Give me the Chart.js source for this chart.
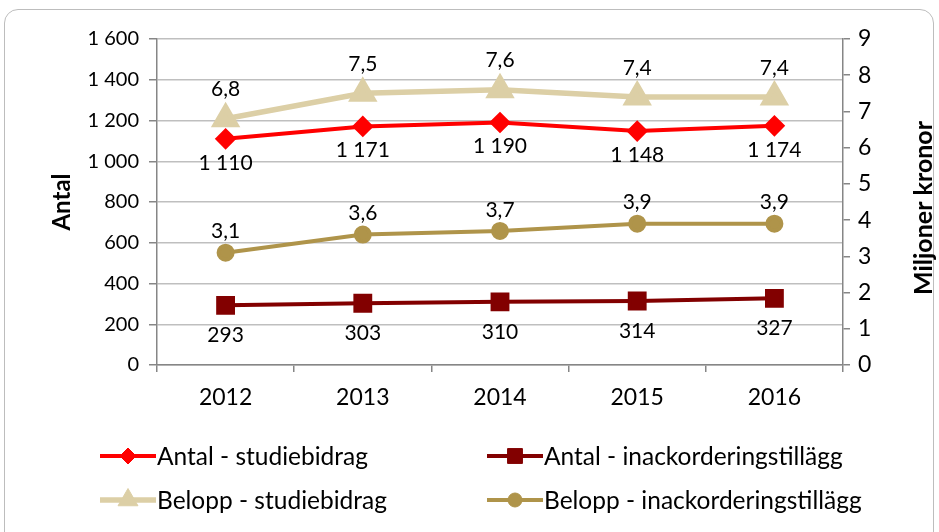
<!DOCTYPE html>
<html>
<head>
<meta charset="utf-8">
<script src="https://cdn.jsdelivr.net/npm/chart.js@4"></script>
<style>
  html, body { margin: 0; padding: 0; background: #fff; }
  #wrap { position: relative; width: 939px; height: 532px; overflow: hidden; }
  #frame { position: absolute; left: 4px; top: 9px; width: 928px; height: 540px;
           border: 1.5px solid #bdbdbd; border-radius: 14px; pointer-events: none; }
  canvas { position: absolute; left: 0; top: 0; }
</style>
</head>
<body>
<div id="wrap">
  <div id="frame"></div>
  <canvas id="my_chart" width="939" height="532"></canvas>
</div>
<script>
// categories and series
var years = ['2012', '2013', '2014', '2015', '2016'];
var antalStudiebidrag = [1110, 1171, 1190, 1148, 1174];
var antalInack = [293, 303, 310, 314, 327];
var beloppStudiebidrag = [6.8, 7.5, 7.6, 7.4, 7.4];
var beloppInack = [3.1, 3.6, 3.7, 3.9, 3.9];

var FONT = 'Lato, Carlito, "Liberation Sans", sans-serif';

function fmtThousand(v){
    return String(v).replace(/\B(?=(\d{3})+(?!\d))/g, ' ');
}
function fmtDecimal(v){
    return v.toFixed(1).replace('.', ',');
}

// value labels drawn next to each point
var labelPlugin = {
    id: 'valueLabels',
    afterDatasetsDraw: function(chart){
        var ctx = chart.ctx;
        ctx.save();
        ctx.font = '21px ' + FONT;
        ctx.fillStyle = '#000';
        ctx.textAlign = 'center';
        ctx.textBaseline = 'middle';
        chart.data.datasets.forEach(function(ds, i){
            var meta = chart.getDatasetMeta(i);
            meta.data.forEach(function(pt, j){
                var txt = ds.labelFmt(ds.data[j]);
                ctx.fillText(txt, pt.x, pt.y + ds.labelOffset);
            });
        });
        ctx.restore();
    }
};

// right axis title, read bottom to top
var rightTitlePlugin = {
    id: 'rightTitle',
    afterDraw: function(chart){
        var ctx = chart.ctx;
        var area = chart.chartArea;
        ctx.save();
        ctx.translate(924, (area.top + area.bottom) / 2 + 6);
        ctx.rotate(-Math.PI / 2);
        ctx.font = 'bold 25px ' + FONT;
        ctx.fillStyle = '#000';
        ctx.textAlign = 'center';
        ctx.textBaseline = 'middle';
        ctx.fillText('Miljoner kronor', 0, 0);
        ctx.restore();
    }
};

// two-column legend below the plot
var legendPlugin = {
    id: 'gridLegend',
    afterDraw: function(chart){
        var ctx = chart.ctx;
        var cols = [100, 487];
        var rows = [456, 500];
        ctx.save();
        chart.data.datasets.forEach(function(ds, k){
            var x = cols[k % 2], y = rows[Math.floor(k / 2)];
            ctx.strokeStyle = ds.borderColor;
            ctx.lineWidth = ds.borderWidth;
            ctx.beginPath();
            ctx.moveTo(x, y);
            ctx.lineTo(x + 56, y);
            ctx.stroke();
            ctx.fillStyle = ds.pointBackgroundColor;
            ctx.strokeStyle = ds.pointBackgroundColor;
            ctx.lineWidth = 1;
            Chart.helpers.drawPoint(ctx, {
                pointStyle: ds.pointStyle,
                radius: ds.pointRadius,
                rotation: 0,
                borderWidth: 1
            }, x + 28, y);
            ctx.fillStyle = '#000';
            ctx.font = '24.5px ' + FONT;
            ctx.textAlign = 'left';
            ctx.textBaseline = 'middle';
            ctx.fillText(ds.label, x + 57, y + 1);
        });
        ctx.restore();
    }
};

var ctx = document.getElementById('my_chart').getContext('2d');
var chart = new Chart(ctx, {
    type: 'line',
    data: {
        labels: years,
        datasets: [
            {
                label: 'Antal - studiebidrag',
                data: antalStudiebidrag,
                yAxisID: 'y',
                borderColor: '#ff0000',
                pointBackgroundColor: '#ff0000',
                pointBorderColor: '#ff0000',
                pointStyle: 'rectRot',
                pointRadius: 8,
                borderWidth: 4,
                labelOffset: 24,
                labelFmt: fmtThousand
            },
            {
                label: 'Antal - inackorderingstillägg',
                data: antalInack,
                yAxisID: 'y',
                borderColor: '#820000',
                pointBackgroundColor: '#820000',
                pointBorderColor: '#820000',
                pointStyle: 'rect',
                pointRadius: 10.5,
                borderWidth: 4,
                labelOffset: 30,
                labelFmt: fmtThousand
            },
            {
                label: 'Belopp - studiebidrag',
                data: beloppStudiebidrag,
                yAxisID: 'y1',
                borderColor: '#dccfa6',
                pointBackgroundColor: '#dccfa6',
                pointBorderColor: '#dccfa6',
                pointStyle: 'triangle',
                pointRadius: 11.5,
                borderWidth: 5.5,
                labelOffset: -29,
                labelFmt: fmtDecimal
            },
            {
                label: 'Belopp - inackorderingstillägg',
                data: beloppInack,
                yAxisID: 'y1',
                borderColor: '#af944a',
                pointBackgroundColor: '#af944a',
                pointBorderColor: '#af944a',
                pointStyle: 'circle',
                pointRadius: 7,
                borderWidth: 4,
                labelOffset: -21,
                labelFmt: fmtDecimal
            }
        ]
    },
    options: {
        responsive: false,
        animation: false,
        layout: { padding: { left: 40, right: 0, top: 39, bottom: 127 } },
        plugins: {
            legend: { display: false },
            tooltip: { enabled: false }
        },
        scales: {
            x: {
                offset: true,
                grid: {
                    offset: true,
                    drawOnChartArea: false,
                    drawTicks: true,
                    tickLength: 7,
                    color: '#868686',
                    lineWidth: 1.5
                },
                border: { color: '#868686', width: 1.5 },
                ticks: { color: '#000', font: { family: FONT, size: 23 }, padding: 12 },
                afterFit: function(scale){ scale.height = 40; }
            },
            y: {
                position: 'left',
                min: 0,
                max: 1600,
                ticks: {
                    stepSize: 200,
                    color: '#000',
                    font: { family: FONT, size: 20 },
                    padding: 10,
                    callback: function(v){ return fmtThousand(v); }
                },
                grid: { color: '#bfbfbf', lineWidth: 1.5, tickLength: 8, tickColor: '#868686' },
                border: { color: '#868686', width: 1.5 },
                title: {
                    display: true,
                    text: 'Antal',
                    color: '#000',
                    font: { family: FONT, size: 24, weight: 'bold' },
                    padding: { top: 8, bottom: 0 }
                },
                afterFit: function(scale){ scale.width = 117; }
            },
            y1: {
                position: 'right',
                min: 0,
                max: 9,
                ticks: {
                    stepSize: 1,
                    color: '#000',
                    font: { family: FONT, size: 23 },
                    padding: 8
                },
                grid: { drawOnChartArea: false, tickLength: 7, color: '#868686', lineWidth: 1.5 },
                border: { color: '#868686', width: 1.5 },
                afterFit: function(scale){ scale.width = 96; }
            }
        }
    },
    plugins: [labelPlugin, rightTitlePlugin, legendPlugin]
});
</script>
</body>
</html>
